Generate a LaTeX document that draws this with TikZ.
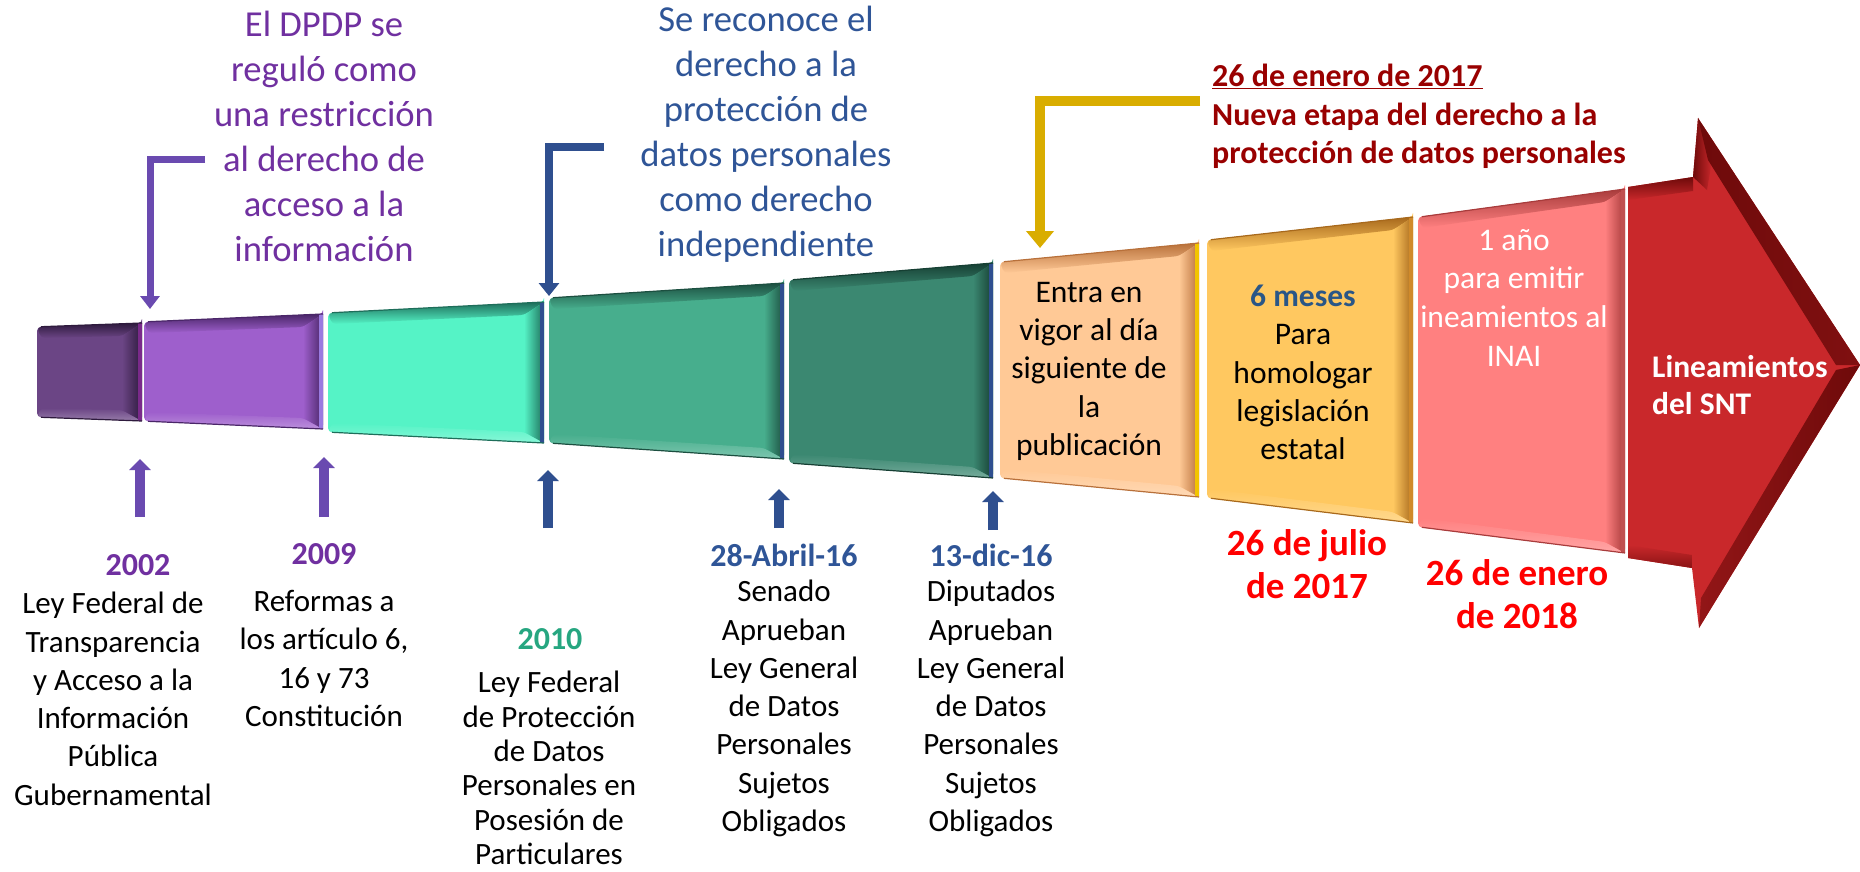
\documentclass[tikz,border=0pt]{standalone}
\usepackage{fontspec}
\setmainfont{Carlito}
\usetikzlibrary{arrows.meta,calc}
\definecolor{purpT}{HTML}{7030A0}
\definecolor{blueT}{HTML}{2F5597}
\definecolor{dredT}{HTML}{990000}
\definecolor{redT}{HTML}{FF0000}
\definecolor{tealT}{HTML}{26A680}
\definecolor{mesesT}{HTML}{2A5687}
\definecolor{c1fill}{HTML}{6B4585}\definecolor{c1dark}{HTML}{2E1A3D}\definecolor{c1edge}{HTML}{7A2A8A}
\definecolor{c2fill}{HTML}{9E5FCC}\definecolor{c2dark}{HTML}{4A2668}\definecolor{c2edge}{HTML}{9A7BE0}
\definecolor{c3fill}{HTML}{55F3C6}\definecolor{c3dark}{HTML}{1E6E5A}\definecolor{c3edge}{HTML}{2F4F8F}
\definecolor{c4fill}{HTML}{47AE8D}\definecolor{c4dark}{HTML}{1C4F40}\definecolor{c4edge}{HTML}{2F4F8F}
\definecolor{c5fill}{HTML}{3B8871}\definecolor{c5dark}{HTML}{163F33}\definecolor{c5edge}{HTML}{2F4F8F}
\definecolor{c6fill}{HTML}{FFC996}\definecolor{c6dark}{HTML}{B8703A}\definecolor{c6edge}{HTML}{F2C400}
\definecolor{c7fill}{HTML}{FFC860}\definecolor{c7dark}{HTML}{A8691C}\definecolor{c7edge}{HTML}{D08A2A}
\definecolor{c8fill}{HTML}{FF8080}\definecolor{c8dark}{HTML}{A83C3C}\definecolor{c8edge}{HTML}{C05050}
\definecolor{c9fill}{HTML}{C9282B}\definecolor{c9dark}{HTML}{6E0A0A}
\definecolor{arrP}{HTML}{6A4AB0}
\definecolor{arrB}{HTML}{2F4F8F}
\definecolor{arrY}{HTML}{D9AD00}
% #1 prefix, #2 x1, #3 x2, #4 yt1, #5 yt2, #6 yb1, #7 yb2
\newcommand{\bevelseg}[7]{%
  \fill[#1fill, rounded corners=4pt] (#3,#5) -- (#3,#7) -- (#2,#6) -- (#2,#4) -- (#3,#5) -- cycle;
  \shade[top color=#1dark, bottom color=#1fill, rounded corners=4pt] (#2+4,#4+11) -- (#2,#4) -- (#3,#5) -- (#3-20,#5+13) -- cycle;
  \shade[top color=#1fill, bottom color=#1fill!70!white, rounded corners=4pt] (#2+4,#6-9) -- (#3-20,#7-11) -- (#3,#7) -- (#2,#6) -- cycle;
  \shade[left color=#1fill, right color=#1dark] (#3-20,#5+13) -- (#3,#5) -- (#3,#7) -- (#3-20,#7-11) -- cycle;
  \fill[#1edge] (#3-4,#5) -- (#3,#5) -- (#3,#7) -- (#3-4,#7) -- cycle;
  \draw[#1dark, line width=1.2pt] (#2+4,#4-0.3) -- (#3,#5);
  \draw[#1dark, line width=1.2pt] (#2+4,#6+0.3) -- (#3,#7);
}
\tikzset{
  toptext/.style={font=\fontsize{36.6}{45}\selectfont, align=center, anchor=north, inner sep=0pt},
  lbl/.style={font=\fontsize{31}{38.3}\selectfont, align=center, anchor=north, inner sep=0pt},
  yearlbl/.style={font=\fontsize{32}{38}\selectfont\bfseries, inner sep=0pt},
  reddate/.style={font=\fontsize{37}{43}\selectfont\bfseries, text=redT, align=center, anchor=north, inner sep=0pt},
  uparrP/.style={draw=arrP, line width=10pt, -{Triangle[width=21pt,length=11pt]}},
  uparrB/.style={draw=arrB, line width=10pt, -{Triangle[width=21pt,length=11pt]}},
  connP/.style={draw=arrP, line width=7pt, line join=miter, -{Triangle[width=19pt,length=13pt]}},
  connB/.style={draw=arrB, line width=8pt, line join=miter, -{Triangle[width=20pt,length=13pt]}},
  connY/.style={draw=arrY, line width=10pt, line join=miter, -{Triangle[width=27pt,length=17pt]}},
}
\begin{document}
\begin{tikzpicture}[x=1pt,y=-1pt]
\useasboundingbox (0,0) rectangle (1860,872);
\fill[white] (0,0) rectangle (1860,872);
% segments
\bevelseg{c1}{37}{142}{327}{323}{417}{421}
\bevelseg{c2}{144}{323}{322}{314}{421}{429}
\bevelseg{c3}{328}{544}{313}{302}{432}{443}
\bevelseg{c4}{549}{784}{298}{283}{443}{459}
\bevelseg{c5}{789}{993}{280}{263}{463}{478}
\bevelseg{c6}{1000}{1199}{262}{243}{478}{497}
\bevelseg{c7}{1207}{1413}{240}{217}{498}{523}
\bevelseg{c8}{1418}{1625}{217}{189}{527}{553}
% big arrow
\fill[c9fill] (1628,187) -- (1693,177) -- (1698,118) -- (1860,365) -- (1699,628) -- (1692,568) -- (1628,558) -- cycle;
\shade[top color=c9dark, bottom color=c9fill] (1628,187) -- (1693,177) -- (1693,191) -- (1628,200) -- cycle;
\shade[left color=c9dark, right color=c9fill] (1693,177) -- (1698,118) -- (1712,160) -- (1707,190) -- cycle;
\shade[left color=c9dark, right color=c9dark!80!c9fill] (1698,118) -- (1860,365) -- (1836,365) -- (1708,160) -- cycle;
\shade[left color=c9dark!60!c9fill, right color=c9dark] (1860,365) -- (1699,628) -- (1701,598) -- (1836,370) -- cycle;
\shade[top color=c9fill, bottom color=c9dark!70!c9fill] (1628,545) -- (1692,555) -- (1692,568) -- (1628,558) -- cycle;
% top texts
\node[toptext, text=purpT] (tP) at (324,11) {El DPDP se\\reguló como\\una restricción\\al derecho de\\acceso a la\\información};
\node[toptext, text=blueT] (tB) at (766,6) {Se reconoce el\\derecho a la\\protección de\\datos personales\\como derecho\\independiente};
\node[font=\fontsize{32}{38.5}\selectfont\bfseries, text=dredT, align=left, anchor=north west, inner sep=0pt] (tR) at (1212,64) {\underline{26 de enero de 2017}\\Nueva etapa del derecho a la\\protección de datos personales};
% connectors from top texts
\coordinate (pS) at (205,159); \coordinate (pE) at (150,309);
\coordinate (bS) at (604,147); \coordinate (bE) at (549,296);
\coordinate (yS) at (1200,101); \coordinate (yE) at (1040,248);
\draw[connP] (pS) -| (pE);
\draw[connB] (bS) -| (bE);
\draw[connY] (yS) -| (yE);
% up arrows
\coordinate (a1b) at (140,517); \coordinate (a1t) at (140,459);
\coordinate (a2b) at (324,517); \coordinate (a2t) at (324,457);
\coordinate (a3b) at (548,528); \coordinate (a3t) at (548,470);
\coordinate (a4b) at (779,528); \coordinate (a4t) at (779,489);
\coordinate (a5b) at (993,530); \coordinate (a5t) at (993,491);
\draw[uparrP] (a1b) -- (a1t);
\draw[uparrP] (a2b) -- (a2t);
\draw[uparrB] (a3b) -- (a3t);
\draw[uparrB] (a4b) -- (a4t);
\draw[uparrB] (a5b) -- (a5t);
% years
\node[yearlbl, text=purpT] (y1) at (138,565) {2002};
\node[yearlbl, text=purpT] (y2) at (324,554) {2009};
\node[yearlbl, text=tealT] (y3) at (550,639) {2010};
\node[yearlbl, text=blueT] (y4) at (784,555) {28-Abril-16};
\node[yearlbl, text=blueT] (y5) at (991,555) {13-dic-16};
% descriptions
\node[lbl] (d1) at (113,592) {Ley Federal de\\Transparencia\\y Acceso a la\\Información\\Pública\\Gubernamental};
\node[lbl] (d2) at (324,590) {Reformas a\\los artículo 6,\\16 y 73\\Constitución};
\node[lbl, font=\fontsize{31}{34.4}\selectfont] (d3) at (549,671) {Ley Federal\\de Protección\\de Datos\\Personales en\\Posesión de\\Particulares};
\node[lbl] (d4) at (784,580) {Senado\\Aprueban\\Ley General\\de Datos\\Personales\\Sujetos\\Obligados};
\node[lbl] (d5) at (991,580) {Diputados\\Aprueban\\Ley General\\de Datos\\Personales\\Sujetos\\Obligados};
% inside boxes
\node[lbl, font=\fontsize{31.5}{38.2}\selectfont] (b6) at (1089,282) {Entra en\\vigor al día\\siguiente de\\la\\publicación};
\node[lbl, font=\fontsize{31.5}{38.2}\selectfont] (b7) at (1303,285) {\textbf{\textcolor{mesesT}{6 meses}}\\Para\\homologar\\legislación\\estatal};
\node[lbl, font=\fontsize{31.5}{38.7}\selectfont, text=white] (b8) at (1514,229) {1 año\\para emitir\\ineamientos al\\INAI};
\node[font=\fontsize{31.5}{37}\selectfont\bfseries, text=white, align=left, anchor=north west, inner sep=0pt] (b9) at (1652,355) {Lineamientos\\del SNT};
% red dates
\node[reddate] (r7) at (1307,529) {26 de julio\\de 2017};
\node[reddate] (r8) at (1517,559) {26 de enero\\de 2018};
\end{tikzpicture}
\end{document}
